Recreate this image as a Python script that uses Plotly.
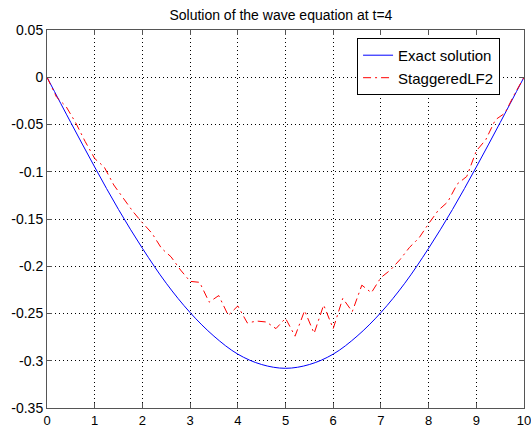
import plotly.graph_objects as go

# Exact solution samples
x_exact = [0, 0.5, 1, 1.5, 2, 2.5, 3, 3.5, 4, 4.5, 5, 5.5, 6, 6.5, 7, 7.5, 8, 8.5, 9, 9.5, 10]
y_exact = [0, -0.048, -0.095, -0.140, -0.181, -0.218, -0.249, -0.274, -0.293, -0.304, -0.308,
           -0.304, -0.293, -0.274, -0.249, -0.218, -0.181, -0.140, -0.095, -0.048, 0]

# Staggered leapfrog numerical solution
x_num = [0.0, 0.2, 0.4, 0.6, 0.8, 1.0, 1.2, 1.4, 1.6, 1.8, 2.0, 2.2, 2.4, 2.6, 2.8, 3.0,
         3.2, 3.4, 3.6, 3.8, 4.0, 4.2, 4.4, 4.6, 4.8, 5.0, 5.2, 5.4, 5.6, 5.8, 6.0, 6.2,
         6.4, 6.6, 6.8, 7.0, 7.2, 7.4, 7.6, 7.8, 8.0, 8.2, 8.4, 8.6, 8.8, 9.0, 9.2, 9.4,
         9.6, 9.8, 10.0]
y_num = [0, -0.021, -0.031, -0.048, -0.068, -0.086, -0.095, -0.114, -0.128, -0.142, -0.154,
         -0.165, -0.181, -0.190, -0.204, -0.216, -0.217, -0.238, -0.231, -0.252, -0.242,
         -0.260, -0.258, -0.259, -0.266, -0.255, -0.274, -0.247, -0.271, -0.241, -0.266,
         -0.234, -0.248, -0.220, -0.228, -0.212, -0.204, -0.193, -0.180, -0.170, -0.155,
         -0.141, -0.132, -0.113, -0.105, -0.078, -0.066, -0.045, -0.038, -0.018, 0]

x_ticks = [0, 1, 2, 3, 4, 5, 6, 7, 8, 9, 10]
y_ticks = [0.05, 0, -0.05, -0.1, -0.15, -0.2, -0.25, -0.3, -0.35]
y_ticktext = ["0.05", "0", "-0.05", "-0.1", "-0.15", "-0.2", "-0.25", "-0.3", "-0.35"]

title_text = "Solution of the wave equation at t=4"
names = ["Exact solution", "StaggeredLF2"]

fig = go.Figure()
fig.add_trace(go.Scatter(x=x_exact, y=y_exact, mode="lines", name=names[0],
                         line=dict(color="#0000ff", width=1, shape="spline")))
fig.add_trace(go.Scatter(x=x_num, y=y_num, mode="lines", name=names[1],
                         line=dict(color="#ff0000", width=1, dash="8px,4px,2px,4px")))

axis_common = dict(showgrid=True, gridcolor="#000000", griddash="1px,3px", gridwidth=1,
                   showline=True, linecolor="#555555", linewidth=1, mirror="ticks",
                   ticks="inside", ticklen=5, tickcolor="#555555", zeroline=False,
                   automargin=False, ticklabeloverflow="allow")

fig.update_xaxes(range=[0, 10], tickvals=x_ticks, ticktext=[str(v) for v in x_ticks],
                 tickfont=dict(family="Liberation Sans, Arial", size=13, color="#000000"),
                 ticklabelstandoff=0, **axis_common)
fig.update_yaxes(range=[-0.35, 0.05], tickvals=y_ticks, ticktext=y_ticktext,
                 tickfont=dict(family="Liberation Sans, Arial", size=14, color="#000000"),
                 **axis_common)

fig.update_layout(
    width=531, height=427,
    margin=dict(l=47, r=7, t=30, b=19),
    paper_bgcolor="white", plot_bgcolor="white",
    title=dict(text=title_text, x=0.529, xanchor="center", y=0.965, yanchor="middle",
               font=dict(family="Liberation Sans, Arial", size=14, color="#000000")),
    legend=dict(x=0.65, y=0.979, xanchor="left", yanchor="top", bgcolor="white",
                bordercolor="#000000", borderwidth=1,
                font=dict(family="Liberation Sans, Arial", size=15, color="#000000"),
                tracegroupgap=0),
    showlegend=True,
)

fig.write_html("out.html")
